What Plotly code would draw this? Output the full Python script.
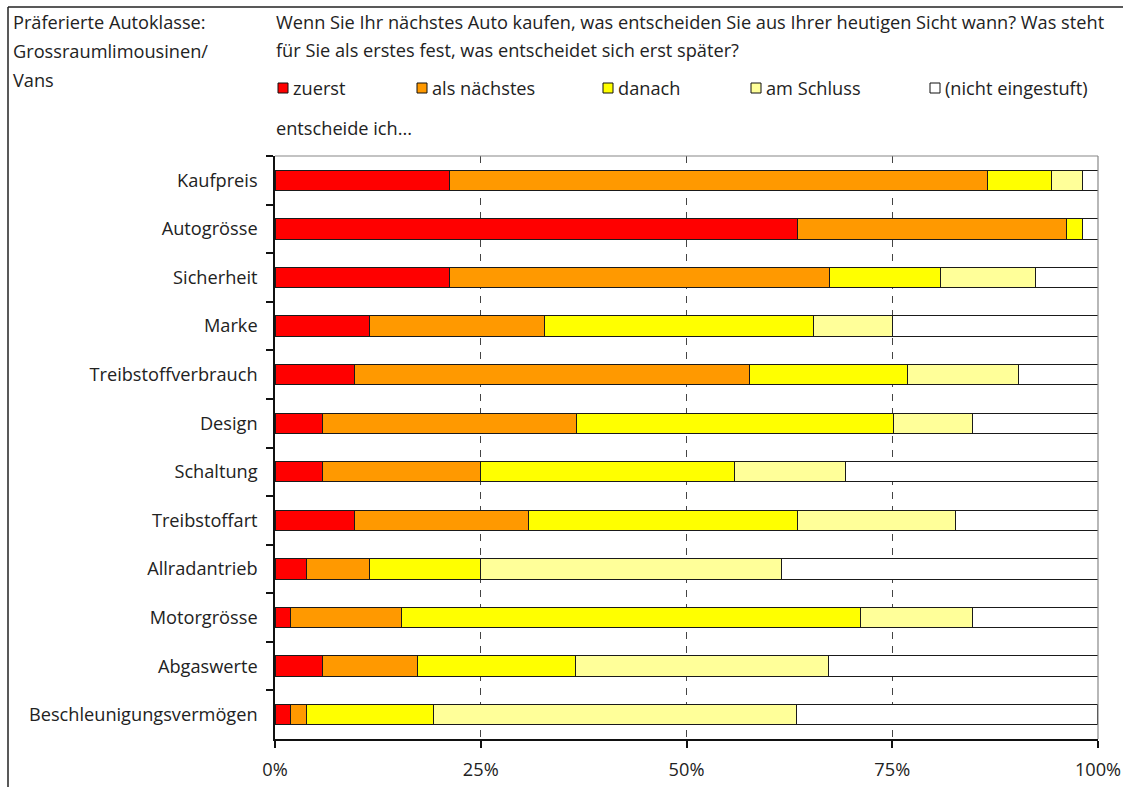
import plotly.graph_objects as go

categories = ["Kaufpreis", "Autogrösse", "Sicherheit", "Marke", "Treibstoffverbrauch",
              "Design", "Schaltung", "Treibstoffart", "Allradantrieb", "Motorgrösse",
              "Abgaswerte", "Beschleunigungsvermögen"]

zuerst = [21.2, 63.5, 21.2, 11.5, 9.6, 5.8, 5.8, 9.6, 3.8, 1.9, 5.8, 1.9]
als_naechstes = [65.4, 32.7, 46.2, 21.2, 48.1, 30.8, 19.2, 21.2, 7.7, 13.5, 11.5, 1.9]
danach = [7.7, 1.9, 13.5, 32.7, 19.2, 38.5, 30.8, 32.7, 13.5, 55.8, 19.2, 15.4]
am_schluss = [3.8, 0.0, 11.5, 9.6, 13.5, 9.6, 13.5, 19.2, 36.5, 13.5, 30.8, 44.2]
nicht_eingestuft = [1.9, 1.9, 7.7, 25.0, 9.6, 15.4, 30.8, 17.3, 38.5, 15.4, 32.7, 36.5]

series_names = ["zuerst", "als nächstes", "danach", "am Schluss", "(nicht eingestuft)"]
series_values = [zuerst, als_naechstes, danach, am_schluss, nicht_eingestuft]
series_colors = ["#FF0000", "#FF9900", "#FFFF00", "#FFFF99", "#FFFFFF"]

tick_vals = [0, 25, 50, 75, 100]
tick_text = ["0%", "25%", "50%", "75%", "100%"]

title_lines = ["Wenn Sie Ihr nächstes Auto kaufen, was entscheiden Sie aus Ihrer heutigen Sicht wann? Was steht",
               "für Sie als erstes fest, was entscheidet sich erst später?"]
side_lines = ["Präferierte Autoklasse:", "Grossraumlimousinen/", "Vans"]
sub_text = "entscheide ich..."

FONT = "Open Sans"
FS = 18.2
W, H = 1123, 787
L, R, T, B = 275, 25, 156, 48
PW, PH = W - L - R, H - T - B


def px(x):
    return (x - L) / PW


def py(y):
    return (H - B - y) / PH


fig = go.Figure()
for name, vals, col in zip(series_names, series_values, series_colors):
    fig.add_trace(go.Bar(
        y=categories, x=vals, name=name, orientation="h",
        marker=dict(color=col, line=dict(color="#1a1a1a", width=1)),
        showlegend=False,
    ))

shapes = []
annotations = []

# frame lines (top and left)
shapes.append(dict(type="line", xref="paper", yref="paper", x0=px(8), x1=px(1123), y0=py(7), y1=py(7),
                   line=dict(color="#222", width=1.5)))
shapes.append(dict(type="line", xref="paper", yref="paper", x0=px(8), x1=px(8), y0=py(7), y1=py(790),
                   line=dict(color="#222", width=1.5)))
# plot top and right border (gray)
shapes.append(dict(type="line", xref="paper", yref="paper", x0=0, x1=1, y0=1, y1=1,
                   line=dict(color="#888", width=1.2)))
shapes.append(dict(type="line", xref="paper", yref="paper", x0=1, x1=1, y0=0, y1=1,
                   line=dict(color="#888", width=1.2)))

# title / side text
for i, t in enumerate(title_lines):
    annotations.append(dict(text=t, xref="paper", yref="paper", x=px(274), y=py(22 + 28 * i),
                            xanchor="left", yanchor="middle", showarrow=False,
                            font=dict(family=FONT, size=FS, color="#222")))
for i, t in enumerate(side_lines):
    annotations.append(dict(text=t, xref="paper", yref="paper", x=px(11), y=py(22 + 29 * i),
                            xanchor="left", yanchor="middle", showarrow=False,
                            font=dict(family=FONT, size=FS, color="#222")))
annotations.append(dict(text=sub_text, xref="paper", yref="paper", x=px(274), y=py(128),
                        xanchor="left", yanchor="middle", showarrow=False,
                        font=dict(family=FONT, size=FS, color="#222")))

# legend (manual, to reproduce tab spacing)
legend_x = [278, 417, 603, 751, 930]
for name, col, lx in zip(series_names, series_colors, legend_x):
    shapes.append(dict(type="rect", xref="paper", yref="paper",
                       x0=px(lx), x1=px(lx + 10), y0=py(83), y1=py(93),
                       fillcolor=col, line=dict(color="#111", width=1)))
    annotations.append(dict(text=name, xref="paper", yref="paper", x=px(lx + 13), y=py(88),
                            xanchor="left", yanchor="middle", showarrow=False,
                            font=dict(family=FONT, size=FS, color="#222")))

fig.update_layout(
    width=W, height=H,
    margin=dict(l=L, r=R, t=T, b=B, autoexpand=False),
    barmode="stack", bargap=0.58,
    plot_bgcolor="white", paper_bgcolor="white",
    font=dict(family=FONT, size=FS, color="#222"),
    shapes=shapes, annotations=annotations,
    xaxis=dict(range=[0, 100], tickvals=tick_vals, ticktext=tick_text, automargin=False,
               showgrid=True, gridcolor="#444", griddash="7px,7px", gridwidth=1,
               showline=True, linecolor="#111", linewidth=1.5,
               ticks="outside", ticklen=7, tickcolor="#111", tickwidth=1.5,
               ticklabelstandoff=6, zeroline=False, fixedrange=True),
    yaxis=dict(autorange="reversed", showline=True, linecolor="#111", linewidth=1.5,
               ticks="outside", ticklen=7, tickcolor="#111", tickwidth=1.5, automargin=False,
               tickson="boundaries", showgrid=False, ticklabelstandoff=12, fixedrange=True),
)

fig.write_html(
    "out.html",
    config={"displayModeBar": False},
    post_script=("document.documentElement.style.margin='0';document.documentElement.style.overflow='hidden';"
                 "document.body.style.margin='0';document.body.style.overflow='hidden';"),
)
